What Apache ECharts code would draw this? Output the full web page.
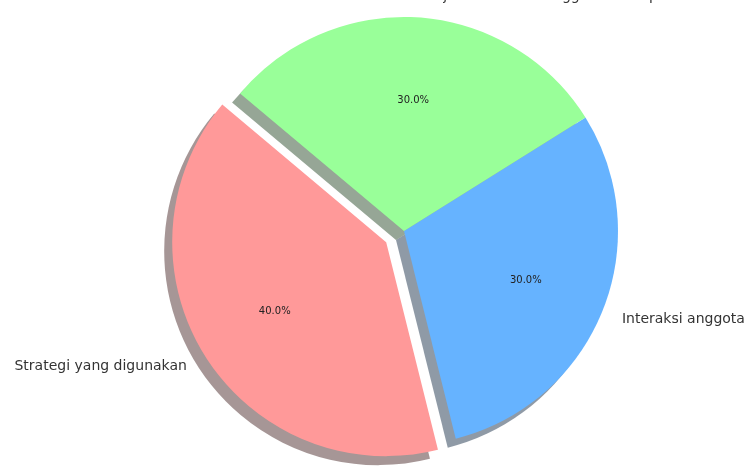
<!DOCTYPE html>
<html>
<head>
<meta charset="utf-8">
<script src="https://cdn.jsdelivr.net/npm/echarts@6/dist/echarts.min.js"></script>
<style>
html,body{margin:0;padding:0;background:#fff;}
#chart{width:747px;height:468px;}
</style>
</head>
<body>
<div id="chart"></div>
<script>
const categories = ['Strategi yang digunakan', 'Interaksi anggota', 'Kerja sama antar anggota kelompok'];
const values = [40, 30, 30];
const exploded = [true, false, false];

const sliceColors = ['#ff9999', '#66b3ff', '#99ff99'];
const shadowColors = ['rgba(77,46,46,0.5)', 'rgba(31,54,77,0.5)', 'rgba(46,77,46,0.5)'];

const R = 214;
const CX = 404, CY = 231;
const EXPLODE = Math.round(0.1 * R);
const SH_X = -8, SH_Y = 9;

function makeData(colorList) {
  return categories.map((c, i) => ({
    name: c, value: values[i], selected: exploded[i],
    itemStyle: { color: colorList ? colorList[i] : 'rgba(0,0,0,0)' }
  }));
}

const base = {
  type: 'pie',
  startAngle: 140,
  clockwise: false,
  selectedMode: 'single',
  selectedOffset: EXPLODE,
  silent: true,
  animation: false,
  avoidLabelOverlap: false,
  emphasis: { disabled: true }
};

const chart = echarts.init(document.getElementById('chart'), null, { renderer: 'canvas' });
chart.setOption({
  backgroundColor: '#ffffff',
  series: [
    Object.assign({}, base, {
      name: 'shadow',
      center: [CX + SH_X, CY + SH_Y],
      radius: [0, R],
      label: { show: false },
      labelLine: { show: false },
      data: makeData(shadowColors)
    }),
    Object.assign({}, base, {
      name: 'main',
      center: [CX, CY],
      radius: [0, R],
      label: {
        show: true,
        position: 'outside',
        distanceToLabelLine: 0,
        overflow: 'none',
        fontFamily: 'DejaVu Sans',
        fontSize: 14,
        color: '#333',
        formatter: p => p.name
      },
      labelLine: { show: false, length: Math.round(0.1 * R), length2: 0 },
      data: makeData(sliceColors)
    }),
    Object.assign({}, base, {
      name: 'pct',
      center: [CX, CY],
      radius: [0, 1.2 * R],
      label: {
        show: true,
        position: 'inside',
        fontFamily: 'DejaVu Sans',
        fontSize: 10,
        color: '#222',
        formatter: p => p.percent.toFixed(1) + '%'
      },
      labelLine: { show: false },
      data: makeData(null)
    })
  ]
});
</script>
</body>
</html>
